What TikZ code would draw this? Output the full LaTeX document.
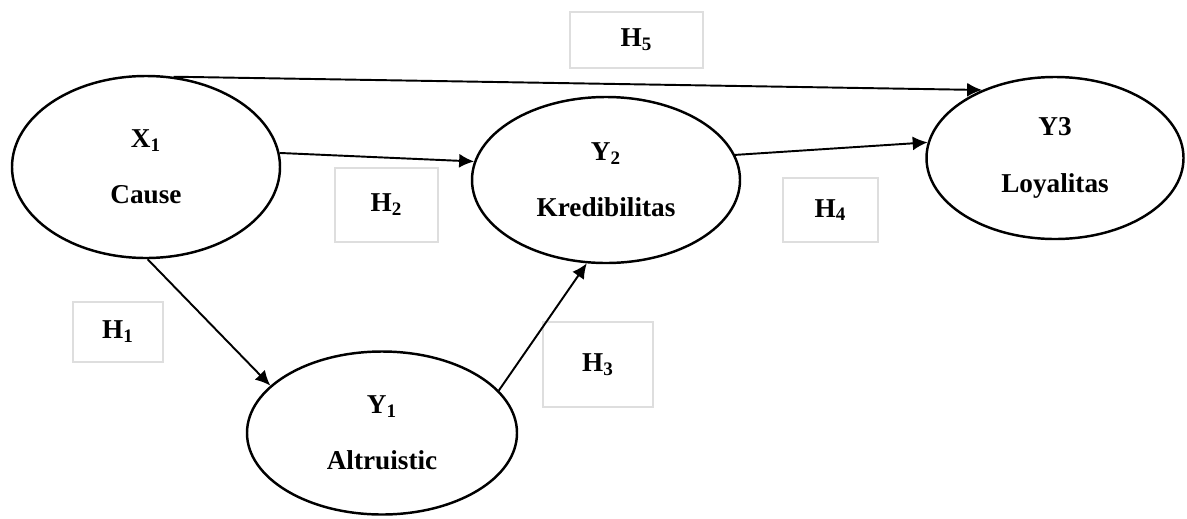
\documentclass[tikz,border=0pt]{standalone}
\usepackage{fontspec}
\setmainfont{Liberation Serif}
\usetikzlibrary{arrows.meta,shapes.geometric}
\definecolor{box_gray}{RGB}{222, 222, 222}
\tikzstyle{lv}=[ellipse,draw=black,line width=1.4pt,align=center,
  inner sep=0pt,font=\fontsize{15.5}{18}\selectfont\bfseries]
\tikzstyle{hb}=[rectangle,draw=box_gray,line width=0.9pt,
  font=\fontsize{15.5}{18}\selectfont\bfseries]
\tikzstyle{arr}=[line width=1.1pt,-{Latex[length=8.5pt,width=8pt]}]

\begin{document}
\begin{tikzpicture}
    \useasboundingbox (0,0) rectangle (23.74,-10.36);
        \node[style=lv,minimum width=5.36cm,minimum height=3.64cm] (0) at (2.92,-3.34) {X\textsubscript{1}\\[14pt]Cause};
		\node[style=lv,minimum width=5.36cm,minimum height=3.32cm] (1) at (12.12,-3.6) {Y\textsubscript{2}\\[14pt]Kredibilitas};
		\node[style=lv,minimum width=5.14cm,minimum height=3.24cm] (2) at (21.1,-3.16) {Y3\\[14pt]Loyalitas};
		\node[style=lv,minimum width=5.4cm,minimum height=3.26cm] (3) at (7.64,-8.66) {Y\textsubscript{1}\\[14pt]Altruistic};
		\node[style=hb,minimum width=2.66cm,minimum height=1.12cm] (4) at (12.73,-0.8) {H\textsubscript{5}};
		\node[style=hb,minimum width=2.06cm,minimum height=1.48cm] (5) at (7.73,-4.1) {H\textsubscript{2}};
		\node[style=hb,minimum width=1.8cm,minimum height=1.2cm] (6) at (2.36,-6.64) {H\textsubscript{1}};
		\node[style=hb,minimum width=2.2cm,minimum height=1.7cm] (7) at (11.96,-7.29) {H\textsubscript{3}};
		\node[style=hb,minimum width=1.9cm,minimum height=1.28cm] (8) at (16.61,-4.2) {H\textsubscript{4}};
        \draw[style=arr] (0.73) to (2.137);
		\draw[style=arr] (0.6) to (1.172);
		\draw[style=arr] (1.11) to (2.173);
		\draw[style=arr] (0.271) to (3.157);
		\draw[style=arr] (3.20) to (1.257);
    \end{tikzpicture}
\end{document}
